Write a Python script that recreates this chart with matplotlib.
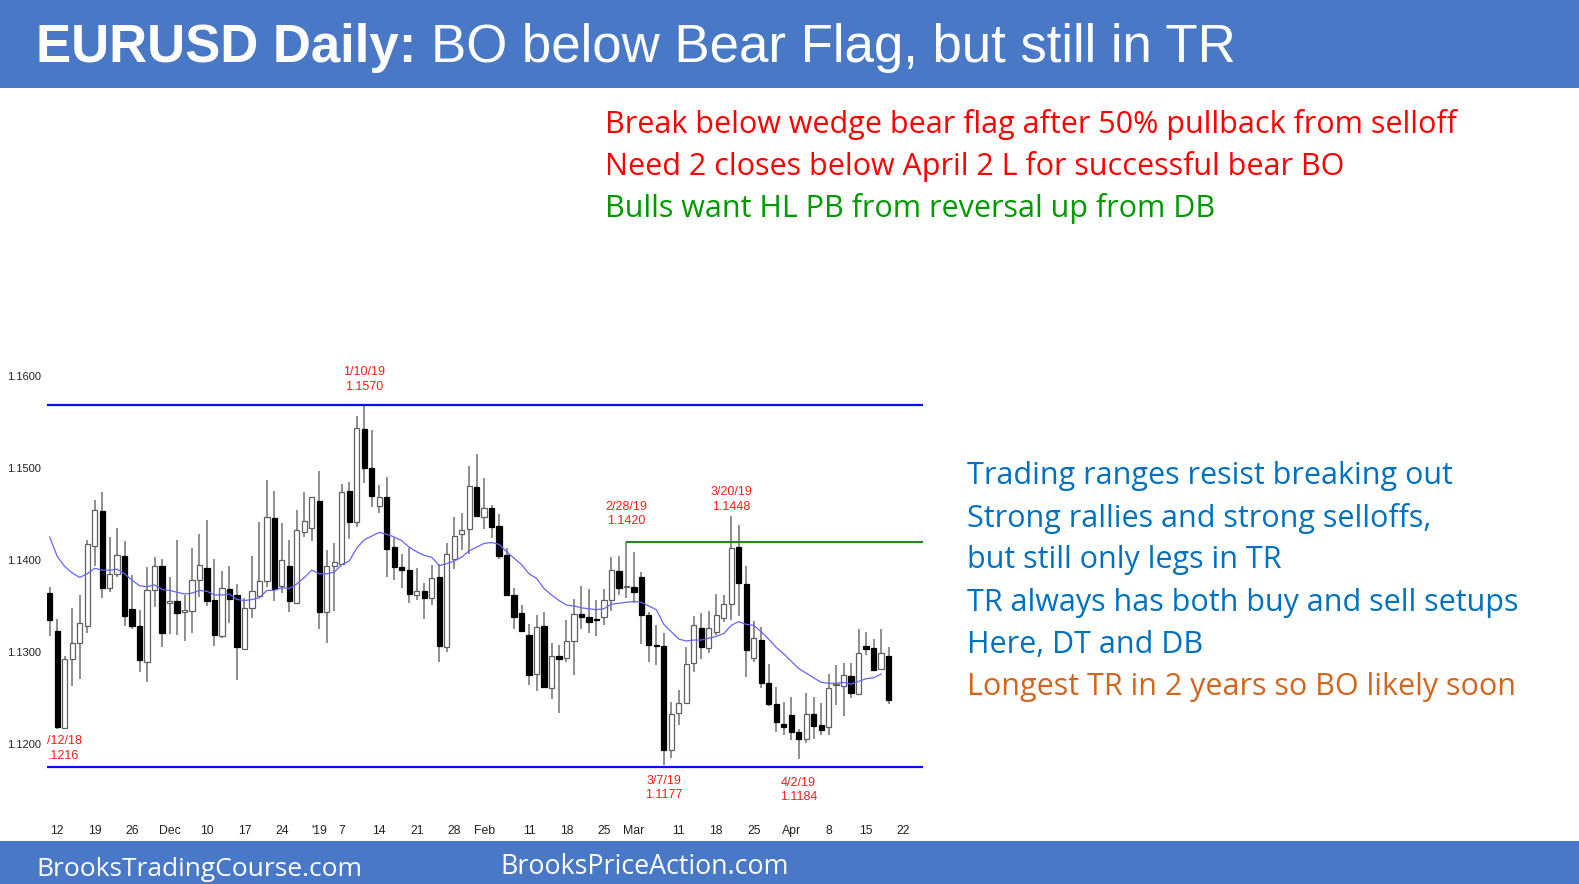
import matplotlib
matplotlib.use("Agg")
import matplotlib.pyplot as plt
from matplotlib.patches import Rectangle

W, H = 1579, 884

# daily EURUSD bars
highs = [1.1371, 1.1336, 1.1296, 1.1348, 1.1362, 1.1422, 1.1465, 1.1474, 1.1425, 1.1435,
         1.1421, 1.1384, 1.1346, 1.1392, 1.1403, 1.1401, 1.1382, 1.1422, 1.1362, 1.1413,
         1.1428, 1.1443, 1.1401, 1.1388, 1.1393, 1.1374, 1.1359, 1.1404, 1.1441, 1.1487,
         1.1475, 1.1440, 1.1422, 1.1454, 1.1474, 1.1468, 1.1497, 1.1411, 1.1419, 1.1483,
         1.1485, 1.1557, 1.1570, 1.1541, 1.1482, 1.1490, 1.1424, 1.1406, 1.1413, 1.1391,
         1.1375, 1.1395, 1.1396, 1.1418, 1.1447, 1.1451, 1.1502, 1.1515, 1.1489, 1.1460,
         1.1450, 1.1413, 1.1370, 1.1351, 1.1330, 1.1340, 1.1343, 1.1310, 1.1308, 1.1335,
         1.1358, 1.1372, 1.1369, 1.1357, 1.1369, 1.1403, 1.1404, 1.1420, 1.1409, 1.1387,
         1.1344, 1.1329, 1.1321, 1.1246, 1.1259, 1.1305, 1.1339, 1.1342, 1.1345, 1.1363,
         1.1362, 1.1448, 1.1438, 1.1393, 1.1334, 1.1327, 1.1287, 1.1262, 1.1246, 1.1251,
         1.1216, 1.1255, 1.1251, 1.1245, 1.1276, 1.1286, 1.1288, 1.1288, 1.1325, 1.1322,
         1.1314, 1.1325, 1.1305]
lows = [1.1317, 1.1216, 1.1217, 1.1263, 1.1271, 1.1321, 1.1393, 1.1359, 1.1365, 1.1382,
        1.1328, 1.1325, 1.1278, 1.1267, 1.1349, 1.1305, 1.1320, 1.1319, 1.1312, 1.1321,
        1.1360, 1.1350, 1.1307, 1.1315, 1.1331, 1.1270, 1.1302, 1.1337, 1.1359, 1.1371,
        1.1355, 1.1364, 1.1343, 1.1352, 1.1425, 1.1421, 1.1325, 1.1310, 1.1345, 1.1395,
        1.1423, 1.1436, 1.1484, 1.1458, 1.1451, 1.1381, 1.1378, 1.1370, 1.1353, 1.1357,
        1.1336, 1.1351, 1.1289, 1.1300, 1.1390, 1.1411, 1.1407, 1.1447, 1.1434, 1.1424,
        1.1401, 1.1361, 1.1325, 1.1322, 1.1264, 1.1258, 1.1261, 1.1249, 1.1234, 1.1289,
        1.1275, 1.1325, 1.1321, 1.1317, 1.1329, 1.1345, 1.1362, 1.1359, 1.1353, 1.1309,
        1.1289, 1.1286, 1.1177, 1.1185, 1.1221, 1.1244, 1.1278, 1.1292, 1.1299, 1.1319,
        1.1333, 1.1335, 1.1339, 1.1273, 1.1289, 1.1261, 1.1241, 1.1213, 1.1210, 1.1204,
        1.1184, 1.1201, 1.1205, 1.1210, 1.1210, 1.1242, 1.1230, 1.1250, 1.1253, 1.1297,
        1.1279, 1.1280, 1.1243]
opens = [1.1364, 1.1323, 1.1217, 1.1292, 1.1310, 1.1328, 1.1415, 1.1453, 1.1370, 1.1385,
         1.1404, 1.1347, 1.1328, 1.1289, 1.1367, 1.1393, 1.1353, 1.1355, 1.1343, 1.1345,
         1.1378, 1.1391, 1.1357, 1.1317, 1.1369, 1.1362, 1.1303, 1.1348, 1.1361, 1.1377,
         1.1446, 1.1372, 1.1393, 1.1353, 1.1430, 1.1435, 1.1464, 1.1344, 1.1393, 1.1396,
         1.1475, 1.1441, 1.1542, 1.1500, 1.1459, 1.1468, 1.1414, 1.1392, 1.1389, 1.1362,
         1.1366, 1.1359, 1.1382, 1.1305, 1.1401, 1.1428, 1.1434, 1.1479, 1.1447, 1.1456,
         1.1437, 1.1405, 1.1362, 1.1342, 1.1319, 1.1276, 1.1328, 1.1261, 1.1296, 1.1294,
         1.1312, 1.1341, 1.1338, 1.1336, 1.1338, 1.1357, 1.1388, 1.1371, 1.1371, 1.1382,
         1.1340, 1.1308, 1.1307, 1.1194, 1.1234, 1.1245, 1.1288, 1.1326, 1.1304, 1.1322,
         1.1337, 1.1352, 1.1414, 1.1374, 1.1294, 1.1313, 1.1266, 1.1244, 1.1222, 1.1231,
         1.1213, 1.1205, 1.1233, 1.1221, 1.1218, 1.1264, 1.1263, 1.1274, 1.1254, 1.1306,
         1.1304, 1.1281, 1.1296]
closes = [1.1335, 1.1218, 1.1292, 1.1310, 1.1331, 1.1417, 1.1454, 1.1370, 1.1385, 1.1405,
          1.1339, 1.1328, 1.1291, 1.1367, 1.1394, 1.1321, 1.1355, 1.1342, 1.1346, 1.1378,
          1.1395, 1.1355, 1.1319, 1.1370, 1.1358, 1.1305, 1.1348, 1.1366, 1.1377, 1.1447,
          1.1368, 1.1400, 1.1355, 1.1433, 1.1442, 1.1468, 1.1343, 1.1394, 1.1398, 1.1474,
          1.1441, 1.1543, 1.1500, 1.1470, 1.1469, 1.1412, 1.1392, 1.1389, 1.1363, 1.1366,
          1.1359, 1.1380, 1.1307, 1.1406, 1.1426, 1.1433, 1.1480, 1.1448, 1.1456, 1.1436,
          1.1404, 1.1362, 1.1338, 1.1323, 1.1275, 1.1327, 1.1262, 1.1296, 1.1292, 1.1312,
          1.1341, 1.1338, 1.1333, 1.1335, 1.1357, 1.1389, 1.1370, 1.1372, 1.1365, 1.1340,
          1.1308, 1.1307, 1.1194, 1.1233, 1.1245, 1.1287, 1.1329, 1.1305, 1.1326, 1.1340,
          1.1352, 1.1413, 1.1375, 1.1302, 1.1315, 1.1266, 1.1244, 1.1224, 1.1218, 1.1213,
          1.1205, 1.1233, 1.1220, 1.1215, 1.1261, 1.1265, 1.1275, 1.1255, 1.1299, 1.1303,
          1.1280, 1.1299, 1.1248]
ema20 = [1.1425, 1.1404, 1.1393, 1.1386, 1.1381, 1.1385, 1.1391, 1.1389, 1.1389, 1.1390,
         1.1385, 1.1378, 1.1372, 1.1371, 1.1373, 1.1368, 1.1367, 1.1365, 1.1363, 1.1364,
         1.1367, 1.1366, 1.1362, 1.1362, 1.1363, 1.1357, 1.1356, 1.1357, 1.1359, 1.1367,
         1.1367, 1.1370, 1.1369, 1.1374, 1.1381, 1.1389, 1.1385, 1.1385, 1.1387, 1.1395,
         1.1399, 1.1413, 1.1422, 1.1426, 1.1430, 1.1428, 1.1425, 1.1421, 1.1414, 1.1409,
         1.1405, 1.1403, 1.1394, 1.1396, 1.1399, 1.1403, 1.1410, 1.1414, 1.1418, 1.1419,
         1.1417, 1.1409, 1.1402, 1.1395, 1.1385, 1.1380, 1.1369, 1.1362, 1.1356, 1.1351,
         1.1350, 1.1348, 1.1347, 1.1346, 1.1347, 1.1352, 1.1353, 1.1354, 1.1355, 1.1354,
         1.1350, 1.1346, 1.1330, 1.1322, 1.1314, 1.1312, 1.1313, 1.1313, 1.1315, 1.1317,
         1.1320, 1.1329, 1.1333, 1.1330, 1.1329, 1.1322, 1.1314, 1.1305, 1.1298, 1.1290,
         1.1282, 1.1277, 1.1272, 1.1267, 1.1266, 1.1266, 1.1267, 1.1265, 1.1268, 1.1271,
         1.1272, 1.1276]

tick_bars = [1, 6, 11, 16, 21, 26, 31, 36, 39, 44, 49, 54, 58, 64, 69, 74, 78, 84, 89, 94, 99, 104, 109, 114]
tick_names = ["12", "19", "26", "Dec", "10", "17", "24", "'19", "7", "14", "21", "28", "Feb",
              "11", "18", "25", "Mar", "11", "18", "25", "Apr", "8", "15", "22"]
price_ticks = [1.12, 1.13, 1.14, 1.15, 1.16]

range_high = 1.1569
range_low = 1.1175
flag_level = 1.1420
flag_bar = 77

swing_bars = [42, 77, 82, 91, 100]
swing_dates = ["1/10/19", "2/28/19", "3/7/19", "3/20/19", "4/2/19"]
swing_prices = ["1.1570", "1.1420", "1.1177", "1.1448", "1.1184"]
swing_label_y = [1.1596, 1.1450, 1.1152, 1.1466, 1.1150]
# this label is cut off by the chart's left edge in the original
cut_label = "/12/18\n.1216"
cut_label_y = 1.1195

title_bold = "EURUSD Daily:"
title_rest = "BO below Bear Flag, but still in TR"
top_notes = ["Break below wedge bear flag after 50% pullback from selloff",
             "Need 2 closes below April 2 L for successful bear BO",
             "Bulls want HL PB from reversal up from DB"]
top_colors = ["#ff0000", "#ff0000", "#009900"]
side_notes = ["Trading ranges resist breaking out",
              "Strong rallies and strong selloffs,",
              "but still only legs in TR",
              "TR always has both buy and sell setups",
              "Here, DT and DB",
              "Longest TR in 2 years so BO likely soon"]
side_colors = ["#0070c0"] * 5 + ["#d0661f"]

band = "#4878c6"
arial = "Liberation Sans"
body = "Open Sans"


def fx(px):
    return px / W


def fy(py):
    return 1 - py / H


fig = plt.figure(figsize=(W / 100, H / 100), dpi=100, facecolor="white")

# header and footer bands
fig.add_artist(Rectangle((0, fy(88)), 1, 88 / H, transform=fig.transFigure, color=band, lw=0))
fig.add_artist(Rectangle((0, 0), 1, fy(841), transform=fig.transFigure, color=band, lw=0))

fig.text(fx(36), fy(48), title_bold, color="white", fontsize=38, fontweight="bold", family=arial, va="center")
fig.text(fx(431), fy(48), title_rest, color="white", fontsize=38, family=arial, va="center")
fig.text(fx(36), fy(869), "BrooksTradingCourse.com", color="white", fontsize=19, family=body, va="center")
fig.text(fx(500), fy(867), "BrooksPriceAction.com", color="white", fontsize=19.3, family=body, va="center")

for i, line in enumerate(top_notes):
    fig.text(fx(605), fy(124 + i * 42.2), line, color=top_colors[i], fontsize=22, family=body, va="center")
for i, line in enumerate(side_notes):
    fig.text(fx(967), fy(476 + i * 42.2), line, color=side_colors[i], fontsize=22, family=body, va="center")

# chart area, 1.16 sits at y=376 and 1 cent is 92 px
ax = fig.add_axes([fx(47), fy(815), (923 - 47) / W, (815 - 366) / H])
ax.set_xlim(-0.36, 116.6)
ax.set_ylim(1.11228, 1.16109)
for s in ax.spines.values():
    s.set_visible(False)
ax.patch.set_alpha(0)

bars = list(range(len(opens)))
ax.vlines(bars, lows, highs, color="#707070", lw=1.1, zorder=2)
for b, o, c in zip(bars, opens, closes):
    face = "white" if c > o else "black"
    edge = "#606060" if c > o else "black"
    ax.bar(b, abs(c - o), bottom=min(o, c), width=0.7, color=face, edgecolor=edge, lw=0.9, zorder=3)

ax.plot(bars[:len(ema20)], ema20, color="#6464ff", lw=0.9, zorder=4)

ax.hlines([range_high, range_low], -0.36, 116.6, color="#0a0aff", lw=1.6, zorder=5)
ax.hlines(flag_level, flag_bar, 116.6, color="#1e8a1e", lw=1.5, zorder=5)

for b, d, p, y in zip(swing_bars, swing_dates, swing_prices, swing_label_y):
    ax.text(b, y, d + "\n" + p, color="#ff1a1a", fontsize=9, family=arial, ha="center", va="center",
            linespacing=1.3)
ax.text(-0.3, cut_label_y, cut_label, color="#ff1a1a", fontsize=9, family=arial, ha="left", va="center",
        linespacing=1.3)

ax.set_xticks(tick_bars)
ax.set_xticklabels(tick_names, fontsize=8.8, family=arial, color="#222222")
ax.set_yticks(price_ticks)
ax.set_yticklabels([f"{p:.4f}" for p in price_ticks], fontsize=8, family=arial, color="#222222")
ax.tick_params(axis="x", length=0, pad=7.5)
ax.tick_params(axis="y", length=0, pad=4.3)

fig.savefig("out.png", dpi=100)
plt.close(fig)
